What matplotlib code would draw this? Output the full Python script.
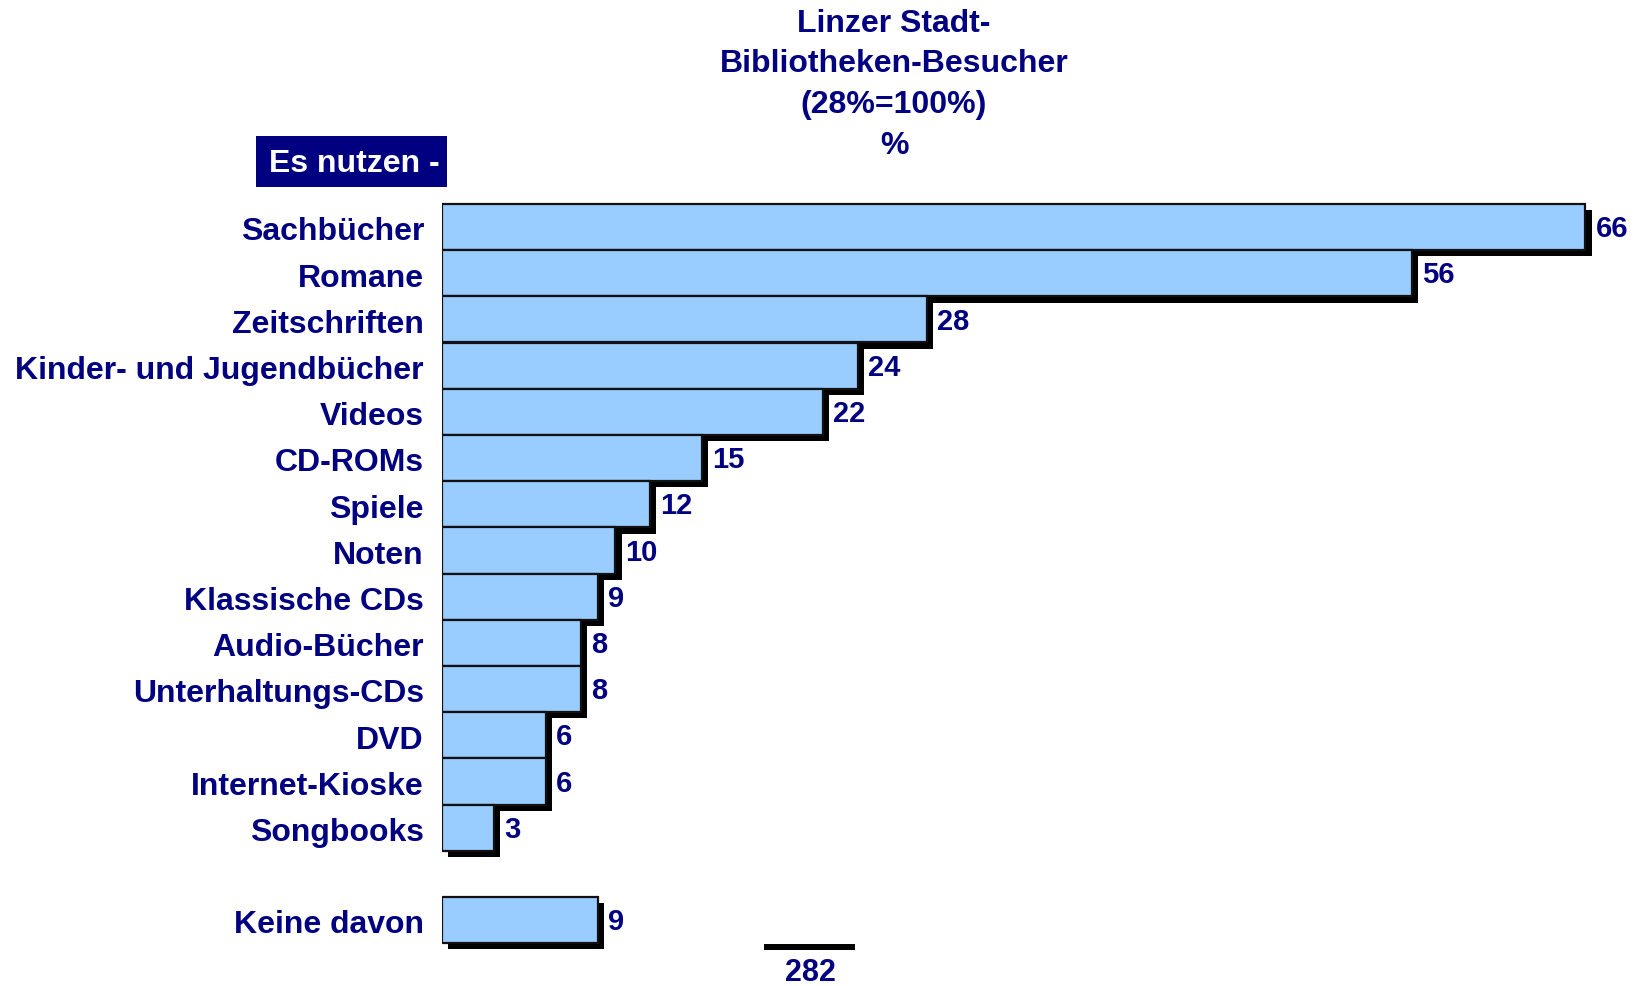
import matplotlib.pyplot as plt
import matplotlib.patheffects as pe
from matplotlib.patches import Rectangle

# data
categories = ['Sachbücher', 'Romane', 'Zeitschriften', 'Kinder- und Jugendbücher',
              'Videos', 'CD-ROMs', 'Spiele', 'Noten', 'Klassische CDs', 'Audio-Bücher',
              'Unterhaltungs-CDs', 'DVD', 'Internet-Kioske', 'Songbooks', 'Keine davon']
values = [66, 56, 28, 24, 22, 15, 12, 10, 9, 8, 8, 6, 6, 3, 9]
total = 282
title_lines = ['Linzer Stadt-', 'Bibliotheken-Besucher', '(28%=100%)', '%']
box_label = 'Es nutzen -'

navy = '#000080'
bar_col = '#99CCFF'
W, H = 1642, 986

plt.rcParams['font.family'] = ['Liberation Sans', 'DejaVu Sans']
plt.rcParams['font.weight'] = 'bold'

fig = plt.figure(figsize=(W / 100, H / 100), dpi=100)

# axes: bars start at x=442 px, 17.32 px per unit; rows 46.1 px apart, first row centre at 227 px
x0, upx = 442, 17.32
y0, pitch = 227, 46.2
ax = fig.add_axes([x0 / W, 0, (W - x0) / W, 1])
ax.set_xlim(0, (W - x0) / upx)
ax.set_ylim((H - y0) / pitch, -y0 / pitch)
ax.axis('off')

# gap of one empty row before "Keine davon"
pos = list(range(len(categories) - 1)) + [len(categories)]

bars = ax.barh(pos, values, height=1.0, color=bar_col, edgecolor='#111111', linewidth=1.6)
for b in bars:
    b.set_path_effects([pe.SimplePatchShadow(offset=(4.6, -4.6), shadow_rgbFace='black', alpha=1.0),
                        pe.Normal()])

for p, cat, v in zip(pos, categories, values):
    ax.annotate(cat, xy=(0, p), xytext=(-13, -9.6), textcoords='offset points',
                ha='right', va='baseline', fontsize=23, color=navy, fontweight='bold')
    ax.annotate(str(v), xy=(v, p), xytext=(7.5, -7.4), textcoords='offset points',
                ha='left', va='baseline', fontsize=21, color=navy, fontweight='bold')

# header
for i, line in enumerate(title_lines):
    fig.text(894 / W, 1 - (32 + 40.5 * i) / H, line, ha='center', va='baseline',
             fontsize=23, color=navy, fontweight='bold')

fig.patches.append(Rectangle((256 / W, 1 - 186.5 / H), (446.5 - 256) / W, 50.5 / H,
                             transform=fig.transFigure, facecolor=navy, edgecolor='none'))
fig.text(269 / W, 1 - 171.5 / H, box_label, ha='left', va='baseline',
         fontsize=23, color='white', fontweight='bold')

# total
fig.add_artist(plt.Line2D([767 / W, 852 / W], [1 - 947 / H, 1 - 947 / H],
                          color='black', linewidth=4.3, transform=fig.transFigure))
fig.text(810 / W, 1 - 981 / H, str(total), ha='center', va='baseline',
         fontsize=22, color=navy, fontweight='bold')

fig.savefig('out.png', dpi=100)
